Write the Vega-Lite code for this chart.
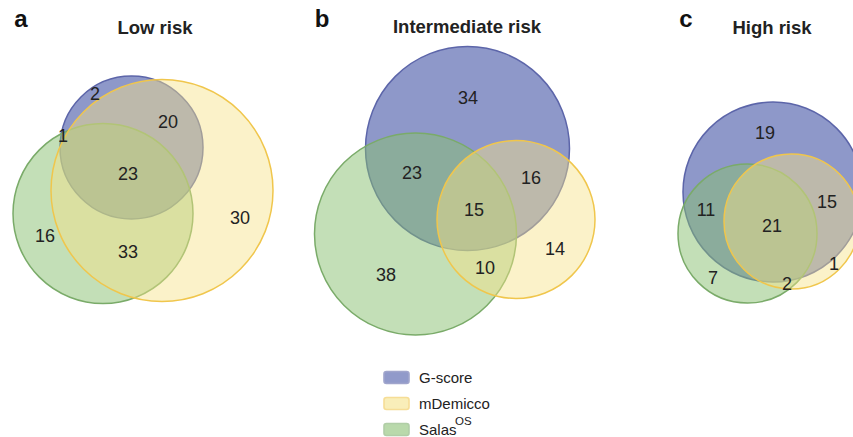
{
  "$schema": "https://vega.github.io/schema/vega-lite/v6.json",
  "width": 853,
  "height": 437,
  "autosize": "none",
  "padding": 0,
  "background": "white",
  "config": {"view": {"stroke": null}},
  "layer": [
    {
      "data": {"values": [
        {"panel": "a", "set": "G-score", "cx": 131.5, "cy": 147.5, "r": 71.5},
        {"panel": "a", "set": "SalasOS", "cx": 103, "cy": 213.5, "r": 90},
        {"panel": "a", "set": "mDemicco", "cx": 162, "cy": 190.5, "r": 111},
        {"panel": "b", "set": "G-score", "cx": 467.5, "cy": 148.5, "r": 102},
        {"panel": "b", "set": "SalasOS", "cx": 415.5, "cy": 234, "r": 101},
        {"panel": "b", "set": "mDemicco", "cx": 516, "cy": 219.5, "r": 79},
        {"panel": "c", "set": "G-score", "cx": 773, "cy": 192, "r": 90},
        {"panel": "c", "set": "SalasOS", "cx": 747.5, "cy": 233.5, "r": 69.5},
        {"panel": "c", "set": "mDemicco", "cx": 791.5, "cy": 221.5, "r": 67.5}
      ]},
      "mark": {"type": "point", "filled": true, "shape": "circle", "opacity": 1, "strokeWidth": 1.5, "strokeOpacity": 1},
      "encoding": {
        "x": {"field": "cx", "type": "quantitative", "scale": {"domain": [0, 853], "nice": false, "zero": false}, "axis": null},
        "y": {"field": "cy", "type": "quantitative", "scale": {"domain": [437, 0], "nice": false, "zero": false}, "axis": null},
        "size": {"field": "r", "type": "quantitative", "scale": {"type": "pow", "exponent": 2, "domain": [0, 100], "range": [0, 40000]}, "legend": null},
        "fill": {
          "field": "set", "type": "nominal",
          "scale": {"domain": ["G-score", "mDemicco", "SalasOS"], "range": ["#4353a5", "#f6e287", "#87bf6f"]},
          "legend": {
            "orient": "none", "legendX": 383, "legendY": 364, "title": null,
            "symbolType": "M-0.8,-0.48H0.8A0.2,0.2,0,0,1,1,-0.28V0.28A0.2,0.2,0,0,1,0.8,0.48H-0.8A0.2,0.2,0,0,1,-1,0.28V-0.28A0.2,0.2,0,0,1,-0.8,-0.48Z",
            "symbolSize": 625, "symbolStrokeWidth": 1.6, "symbolOpacity": 0.58,
            "labelFont": "Liberation Sans", "labelFontSize": 15, "labelColor": "#222", "labelOffset": 9,
            "rowPadding": 3,
            "labelExpr": "datum.label == 'SalasOS' ? 'Salas' : datum.label"
          }
        },
        "stroke": {
          "field": "set", "type": "nominal",
          "scale": {"domain": ["G-score", "mDemicco", "SalasOS"], "range": ["#5c65a9", "#f0c64c", "#7aab69"]},
          "legend": null
        },
        "fillOpacity": {
          "field": "set", "type": "nominal",
          "scale": {"type": "ordinal", "domain": ["G-score", "mDemicco", "SalasOS"], "range": [0.6, 0.45, 0.5]},
          "legend": null
        }
      }
    },
    {
      "data": {"values": [
        {"cx": 95, "cy": 95, "n": 2}, {"cx": 168, "cy": 123, "n": 20}, {"cx": 63, "cy": 137, "n": 1},
        {"cx": 128, "cy": 175, "n": 23}, {"cx": 240, "cy": 219, "n": 30}, {"cx": 45, "cy": 237, "n": 16},
        {"cx": 128, "cy": 253, "n": 33},
        {"cx": 468, "cy": 99, "n": 34}, {"cx": 412, "cy": 174, "n": 23}, {"cx": 531, "cy": 179, "n": 16},
        {"cx": 474, "cy": 211, "n": 15}, {"cx": 555, "cy": 250, "n": 14}, {"cx": 485, "cy": 269, "n": 10},
        {"cx": 386, "cy": 276, "n": 38},
        {"cx": 765, "cy": 134, "n": 19}, {"cx": 706, "cy": 211, "n": 11}, {"cx": 827, "cy": 203, "n": 15},
        {"cx": 772, "cy": 227, "n": 21}, {"cx": 834, "cy": 265, "n": 1}, {"cx": 713, "cy": 279, "n": 7},
        {"cx": 787, "cy": 285, "n": 2}
      ]},
      "mark": {"type": "text", "font": "Liberation Sans", "fontSize": 18, "color": "#222", "align": "center", "baseline": "middle"},
      "encoding": {
        "x": {"field": "cx", "type": "quantitative"},
        "y": {"field": "cy", "type": "quantitative"},
        "text": {"field": "n", "type": "quantitative"}
      }
    },
    {
      "data": {"values": [
        {"cx": 155, "cy": 34, "t": "Low risk"},
        {"cx": 467, "cy": 33, "t": "Intermediate risk"},
        {"cx": 772, "cy": 34, "t": "High risk"}
      ]},
      "mark": {"type": "text", "font": "Liberation Sans", "fontSize": 18.5, "fontWeight": "bold", "color": "#222", "align": "center", "baseline": "alphabetic"},
      "encoding": {
        "x": {"field": "cx", "type": "quantitative"},
        "y": {"field": "cy", "type": "quantitative"},
        "text": {"field": "t", "type": "nominal"}
      }
    },
    {
      "data": {"values": [
        {"cx": 21, "cy": 27, "t": "a"},
        {"cx": 322, "cy": 27, "t": "b"},
        {"cx": 686, "cy": 27, "t": "c"}
      ]},
      "mark": {"type": "text", "font": "Liberation Sans", "fontSize": 24, "fontWeight": "bold", "color": "#111", "align": "center", "baseline": "alphabetic"},
      "encoding": {
        "x": {"field": "cx", "type": "quantitative"},
        "y": {"field": "cy", "type": "quantitative"},
        "text": {"field": "t", "type": "nominal"}
      }
    },
    {
      "data": {"values": [{"cx": 455, "cy": 425, "t": "OS"}]},
      "mark": {"type": "text", "font": "Liberation Sans", "fontSize": 11.5, "color": "#222", "align": "left", "baseline": "alphabetic"},
      "encoding": {
        "x": {"field": "cx", "type": "quantitative"},
        "y": {"field": "cy", "type": "quantitative"},
        "text": {"field": "t", "type": "nominal"}
      }
    }
  ]
}
